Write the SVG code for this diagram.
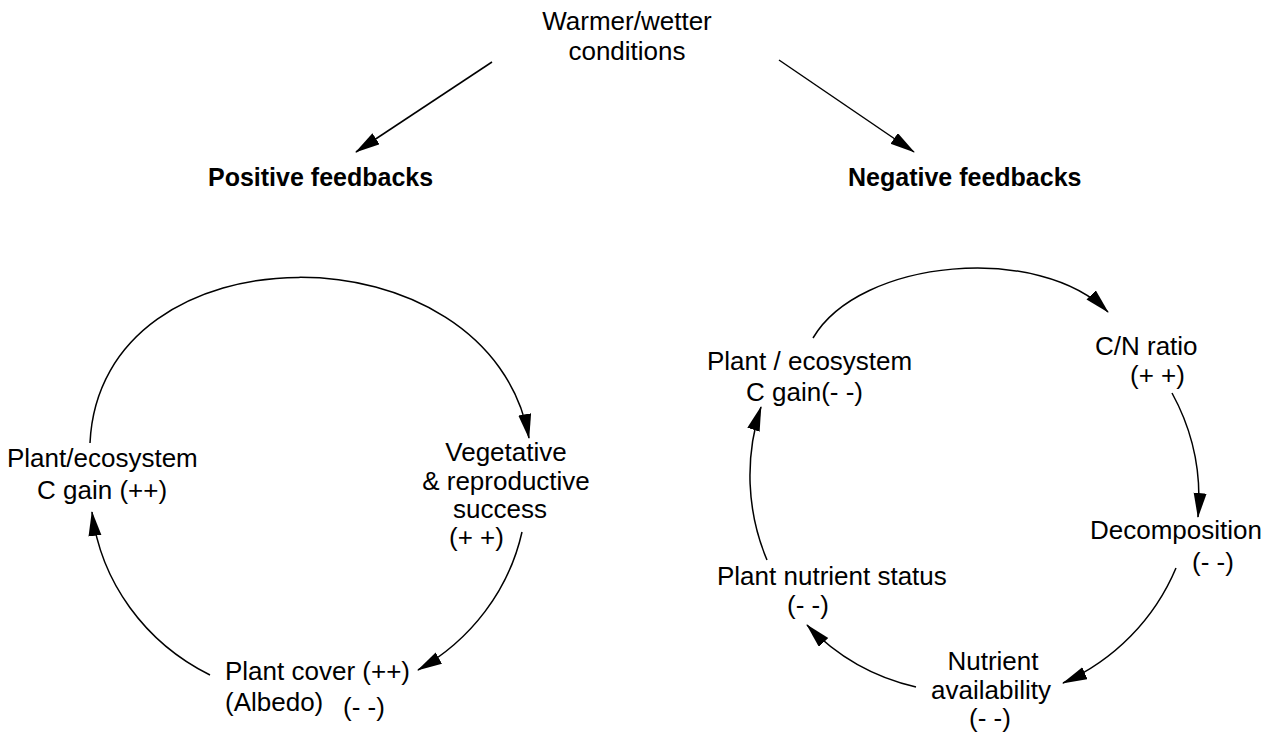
<svg xmlns="http://www.w3.org/2000/svg" width="1273" height="738" viewBox="0 0 1273 738">
<style>
text{font-family:"Liberation Sans",Arial,sans-serif;font-size:26px;fill:#000}
.b{font-weight:bold;font-size:25px}
.c{fill:none;stroke:#000;stroke-width:1.5}
</style>
<defs>
<marker id="ah" markerUnits="userSpaceOnUse" markerWidth="26" markerHeight="14" refX="24" refY="6.5" orient="auto">
<path d="M0,0 L25,6.5 L0,13 z" fill="#000"/>
</marker>
</defs>
<rect width="1273" height="738" fill="#fff"/>
<g id="connectors">
<path class="c" d="M492,62 L356,152" marker-end="url(#ah)"/>
<path class="c" d="M779,60 L914,152" marker-end="url(#ah)"/>
<path class="c" d="M90,443 C100,223 490,223 529,438" marker-end="url(#ah)"/>
<path class="c" d="M522,532 A222,212 0 0 1 418,670" marker-end="url(#ah)"/>
<path class="c" d="M210,675 A222,212 0 0 1 92,512" marker-end="url(#ah)"/>
<path class="c" d="M813,338 C860,258 1040,243 1108,312" marker-end="url(#ah)"/>
<path class="c" d="M1172,393 A218,218 0 0 1 1198,517" marker-end="url(#ah)"/>
<path class="c" d="M1176,568 A218,218 0 0 1 1063,683" marker-end="url(#ah)"/>
<path class="c" d="M916,687 A218,218 0 0 1 807,625" marker-end="url(#ah)"/>
<path class="c" d="M767,560 A218,218 0 0 1 761,407" marker-end="url(#ah)"/>
</g>
<g id="warmer"><text x="627" y="30" text-anchor="middle">Warmer/wetter</text><text x="627" y="60" text-anchor="middle">conditions</text></g>
<g id="positive"><text class="b" x="208" y="186">Positive feedbacks</text></g>
<g id="negative"><text class="b" x="848" y="186">Negative feedbacks</text></g>
<g id="pos-cgain"><text x="7" y="467">Plant/ecosystem</text><text x="37" y="499">C gain (++)</text></g>
<g id="veg"><text x="506" y="461" text-anchor="middle">Vegetative</text><text x="506" y="490" text-anchor="middle">&amp; reproductive</text><text x="500" y="518" text-anchor="middle">success</text><text x="449" y="546">(+ +)</text></g>
<g id="cover"><text x="225" y="680">Plant cover (++)</text><text x="225" y="711">(Albedo)</text><text x="343" y="716">(- -)</text></g>
<g id="neg-cgain"><text x="707" y="370">Plant / ecosystem</text><text x="746" y="401">C gain(- -)</text></g>
<g id="cn"><text x="1095" y="355">C/N ratio</text><text x="1130" y="384">(+ +)</text></g>
<g id="decomp"><text x="1090" y="539">Decomposition</text><text x="1192" y="571">(- -)</text></g>
<g id="nutrient"><text x="993" y="670" text-anchor="middle">Nutrient</text><text x="991" y="699" text-anchor="middle">availability</text><text x="969" y="727">(- -)</text></g>
<g id="pns"><text x="717" y="585">Plant nutrient status</text><text x="787" y="614">(- -)</text></g>
</svg>
